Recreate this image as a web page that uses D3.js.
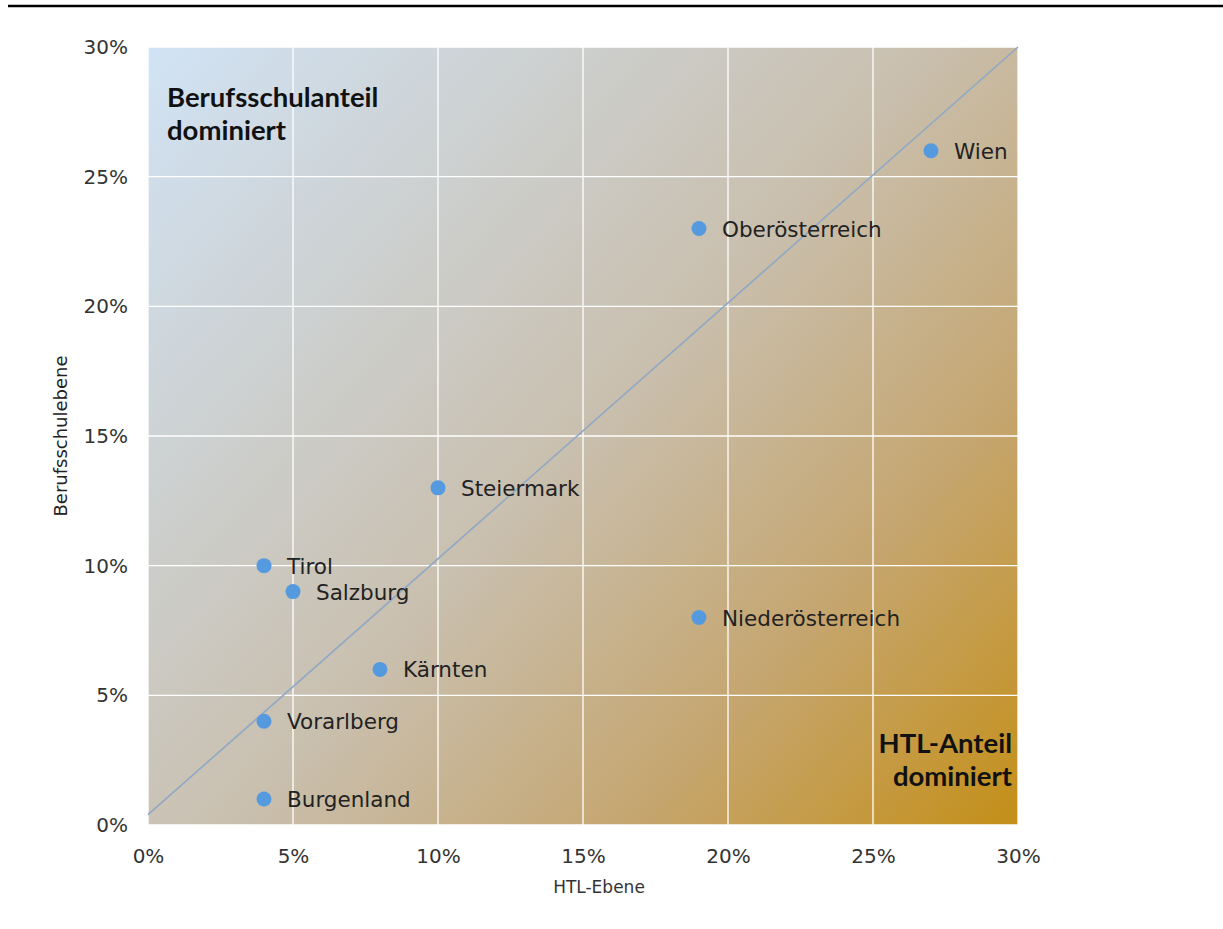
<!DOCTYPE html>
<html><head><meta charset="utf-8">
<script src="https://cdn.jsdelivr.net/npm/d3@7/dist/d3.min.js"></script>
<style>body{margin:0;background:#fff;} svg{display:block;}</style>
</head><body>
<svg id="chart" width="1223" height="929"></svg>
<script>
const regions = ["Wien","Oberösterreich","Steiermark","Tirol","Salzburg","Kärnten","Niederösterreich","Vorarlberg","Burgenland"];
const htlShare = [27, 19, 10, 4, 5, 8, 19, 4, 4];
const berufsschulShare = [26, 23, 13, 10, 9, 6, 8, 4, 1];
const tickValues = [0, 5, 10, 15, 20, 25, 30];
const trendLine = [[0, 0.4], [30, 30]];
const xTitle = "HTL-Ebene";
const yTitle = "Berufsschulebene";

const svg = d3.select("#chart");
const m = {left:148, right:1018, top:47, bottom:825};
const x = d3.scaleLinear().domain([0,30]).range([m.left, m.right]);
const y = d3.scaleLinear().domain([0,30]).range([m.bottom, m.top]);
const sans = "'DejaVu Sans', Verdana, sans-serif";

// top rule
svg.append("line").attr("x1",8).attr("x2",1223).attr("y1",6).attr("y2",6)
  .attr("stroke","#000").attr("stroke-width",2.5);

const defs = svg.append("defs");
const g = defs.append("linearGradient").attr("id","bg")
  .attr("gradientUnits","userSpaceOnUse")
  .attr("x1",m.left).attr("y1",m.top).attr("x2",m.right).attr("y2",m.bottom);
[[0,"#d1e3f5"],[0.5,"#c9bfae"],[0.75,"#c5a670"],[1,"#c48f18"]].forEach(s=>
  g.append("stop").attr("offset",s[0]).attr("stop-color",s[1]));

svg.append("rect").attr("x",m.left).attr("y",m.top)
  .attr("width",m.right-m.left).attr("height",m.bottom-m.top).attr("fill","url(#bg)");

// grid
svg.append("g").selectAll("line").data(tickValues).join("line")
  .attr("x1",d=>x(d)).attr("x2",d=>x(d)).attr("y1",m.top).attr("y2",m.bottom)
  .attr("stroke","#fff").attr("stroke-width",1.3);
svg.append("g").selectAll("line").data(tickValues).join("line")
  .attr("y1",d=>y(d)).attr("y2",d=>y(d)).attr("x1",m.left).attr("x2",m.right)
  .attr("stroke","#fff").attr("stroke-width",1.3);

// axes
const fmt = d=>d+"%";
const xa = svg.append("g").attr("transform",`translate(0,${m.bottom})`)
  .call(d3.axisBottom(x).tickValues(tickValues).tickFormat(fmt).tickSize(0).tickPadding(24));
const ya = svg.append("g").attr("transform",`translate(${m.left},0)`)
  .call(d3.axisLeft(y).tickValues(tickValues).tickFormat(fmt).tickSize(0).tickPadding(20));
[xa,ya].forEach(a=>{a.select(".domain").remove();
  a.selectAll("text").attr("font-family",sans).attr("font-size",20).attr("fill","#333");});

svg.append("text").attr("x",(m.left+m.right)/2+16).attr("y",893).attr("text-anchor","middle")
  .attr("font-family",sans).attr("font-size",17).attr("fill","#333")
  .text(xTitle);
svg.append("text").attr("transform",`translate(67,${(m.top+m.bottom)/2}) rotate(-90)`)
  .attr("text-anchor","middle")
  .attr("font-family",sans).attr("font-size",18).attr("fill","#222")
  .text(yTitle);

// trend line
svg.append("path").datum(trendLine)
  .attr("d",d3.line().x(d=>x(d[0])).y(d=>y(d[1])))
  .attr("stroke","#8fa8c4").attr("stroke-width",1.6).attr("fill","none");

// points
const pts = regions.map((r,i)=>({r, hx:htlShare[i], by:berufsschulShare[i]}));
svg.append("g").selectAll("circle").data(pts).join("circle")
  .attr("cx",d=>x(d.hx)).attr("cy",d=>y(d.by)).attr("r",7.5).attr("fill","#559ade");
svg.append("g").selectAll("text").data(pts).join("text")
  .attr("x",d=>x(d.hx)+23).attr("y",d=>y(d.by)+8)
  .attr("font-family",sans).attr("font-size",21.5).attr("fill","#222")
  .text(d=>d.r);

// corner annotations
const bold = {"font-family":"Lato, 'Liberation Sans', sans-serif","font-weight":"bold","font-size":27.5,"fill":"#111"};
function ann(lines, xx, yy, anchor){
  lines.forEach((t,i)=>{
    const tx = svg.append("text").attr("x",xx).attr("y",yy+i*33).attr("text-anchor",anchor).text(t);
    Object.entries(bold).forEach(([k,v])=>tx.attr(k,v));
  });
}
ann(["Berufsschulanteil","dominiert"], 167, 107, "start");
ann(["HTL-Anteil","dominiert"], 1012, 753, "end");
</script>
</body></html>
